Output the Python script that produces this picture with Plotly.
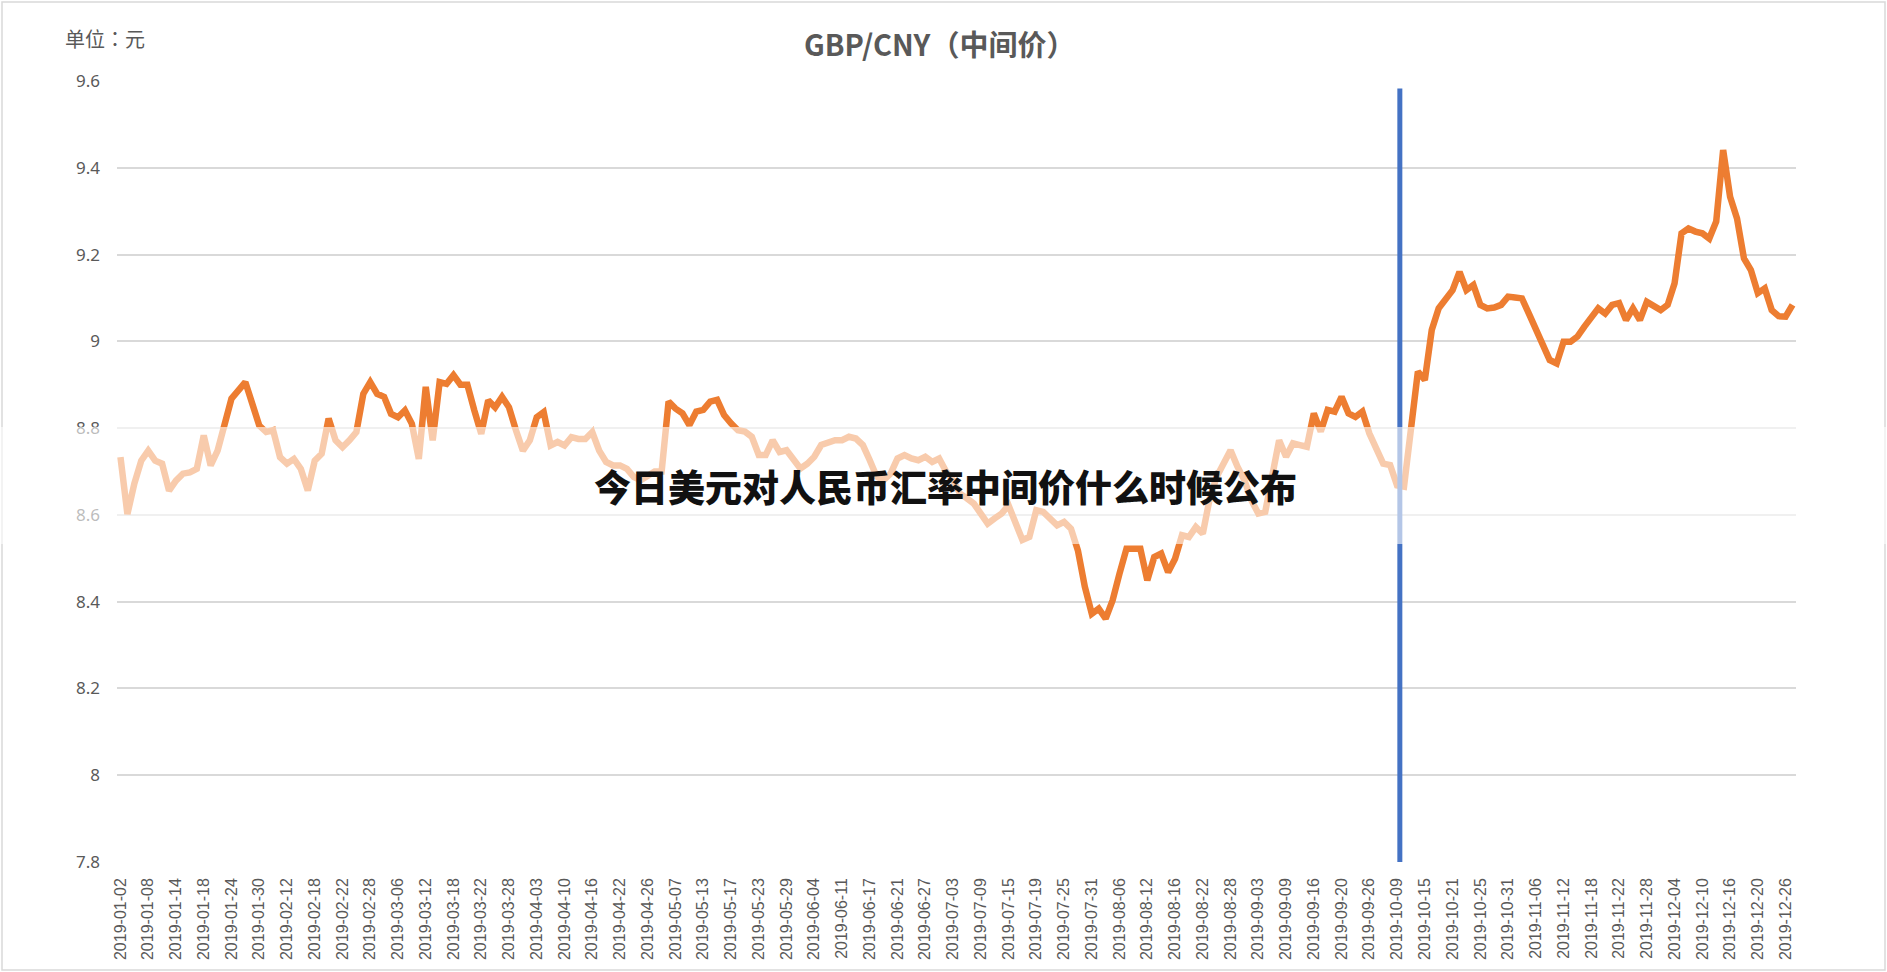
import pandas as pd
import plotly.graph_objects as go

# ---------------- data ----------------
HOLIDAYS_2019 = ["2019-01-01", "2019-02-04", "2019-02-05", "2019-02-06", "2019-02-07",
                 "2019-02-08", "2019-04-05", "2019-05-01", "2019-05-02", "2019-05-03",
                 "2019-06-07", "2019-09-13", "2019-10-01", "2019-10-02", "2019-10-03",
                 "2019-10-04", "2019-10-07"]
_days = pd.bdate_range("2019-01-02", "2019-12-27")
DATES = [d.strftime("%Y-%m-%d") for d in _days if d.strftime("%Y-%m-%d") not in HOLIDAYS_2019]

Q1_VALUES = [8.733, 8.602, 8.672, 8.725, 8.748, 8.725, 8.718, 8.656, 8.679, 8.695,
             8.698, 8.706, 8.783, 8.714, 8.748, 8.814, 8.868, 8.887, 8.906, 8.856,
             8.806, 8.791, 8.795, 8.733, 8.718, 8.729, 8.706, 8.656, 8.725, 8.741,
             8.822, 8.772, 8.756, 8.772, 8.791, 8.879, 8.906, 8.879, 8.872, 8.833,
             8.825, 8.841, 8.810, 8.729, 8.895, 8.772, 8.906, 8.902, 8.922, 8.900,
             8.900, 8.841, 8.787, 8.864, 8.848, 8.872, 8.848, 8.795]
Q2_VALUES = [8.748, 8.772, 8.825, 8.837, 8.760, 8.768, 8.760, 8.779, 8.775, 8.775,
             8.791, 8.748, 8.722, 8.714, 8.714, 8.706, 8.687, 8.680, 8.690, 8.700,
             8.700, 8.861, 8.845, 8.834, 8.807, 8.838, 8.842, 8.861, 8.865, 8.830,
             8.811, 8.795, 8.792, 8.780, 8.738, 8.738, 8.772, 8.745, 8.749, 8.730,
             8.707, 8.718, 8.734, 8.761, 8.765, 8.772, 8.772, 8.780, 8.776, 8.761,
             8.726, 8.688, 8.680, 8.695, 8.730, 8.738, 8.730, 8.726, 8.734, 8.722]
Q3_VALUES = [8.730, 8.700, 8.680, 8.649, 8.638, 8.626, 8.603, 8.580, 8.592, 8.603,
             8.622, 8.580, 8.542, 8.549, 8.611, 8.607, 8.590, 8.576, 8.584, 8.568,
             8.518, 8.434, 8.372, 8.384, 8.361, 8.403, 8.465, 8.522, 8.522, 8.522,
             8.449, 8.503, 8.511, 8.468, 8.499, 8.553, 8.549, 8.572, 8.557, 8.638,
             8.688, 8.715, 8.749, 8.711, 8.680, 8.634, 8.603, 8.607, 8.688, 8.772,
             8.734, 8.765, 8.761, 8.757, 8.834, 8.792, 8.842, 8.838, 8.872, 8.834,
             8.826, 8.838, 8.788, 8.757, 8.718]
Q4_VALUES = [8.715, 8.668, 8.665, 8.800, 8.930, 8.911, 9.026, 9.076, 9.095, 9.118,
             9.160, 9.118, 9.130, 9.084, 9.076, 9.078, 9.084, 9.103, 9.101, 9.099,
             9.064, 9.026, 8.995, 8.957, 8.949, 8.999, 8.999, 9.011, 9.034, 9.053,
             9.076, 9.064, 9.084, 9.088, 9.049, 9.076, 9.049, 9.091, 9.080, 9.072,
             9.084, 9.134, 9.249, 9.260, 9.253, 9.249, 9.237, 9.276, 9.441, 9.333,
             9.283, 9.191, 9.164, 9.111, 9.122, 9.072, 9.058, 9.057, 9.084]
VALUES = Q1_VALUES + Q2_VALUES + Q3_VALUES + Q4_VALUES

X_TICKS = DATES[::4]
Y_TICK_VALS = [7.8, 8.0, 8.2, 8.4, 8.6, 8.8, 9.0, 9.2, 9.4, 9.6]
Y_TICK_TEXT = ["7.8", "8", "8.2", "8.4", "8.6", "8.8", "9", "9.2", "9.4", "9.6"]

TITLE = "GBP/CNY（中间价）"
UNIT = "单位：元"
OVERLAY = "今日美元对人民币汇率中间价什么时候公布"
MARK_DATE = "2019-10-09"

# ---------------- layout geometry ----------------
W, H = 1887, 972
ML, MR, MT, MB = 117, 91, 81, 110
PW, PH = W - ML - MR, H - MT - MB


def px(x):
    return (x - ML) / PW


def py(y):
    return (H - MB - y) / PH


GRAY = "#595959"
ORANGE = "#ED7D31"
BLUE = "#4472C4"

fig = go.Figure()
fig.add_trace(go.Scatter(x=DATES, y=VALUES, mode="lines",
                         line=dict(color=ORANGE, width=6.5), hoverinfo="x+y",
                         showlegend=False))

mark_idx = DATES.index(MARK_DATE) + 0.4

shapes = [
    # chart border
    dict(type="rect", xref="paper", yref="paper", x0=px(2), x1=px(W - 2), y0=py(H - 2), y1=py(2),
         line=dict(color="#D9D9D9", width=1.5), fillcolor="rgba(0,0,0,0)", layer="below"),
    # vertical blue marker line
    dict(type="line", xref="x", yref="y", x0=mark_idx, x1=mark_idx, y0=7.8, y1=9.583,
         line=dict(color=BLUE, width=5), layer="above"),
    # semi-transparent white band
    dict(type="rect", xref="paper", yref="paper", x0=px(0), x1=px(W), y0=py(544), y1=py(427),
         line=dict(width=0), fillcolor="rgba(255,255,255,0.6)", layer="above"),
]

annotations = [
    dict(text=TITLE, xref="paper", yref="paper", x=px(939), y=py(43), showarrow=False,
         xanchor="center", yanchor="middle",
         font=dict(family="Noto Sans CJK SC", size=29, color=GRAY, weight="bold")),
    dict(text=UNIT, xref="paper", yref="paper", x=px(63), y=py(39), showarrow=False,
         xanchor="left", yanchor="middle",
         font=dict(family="Noto Sans CJK TC", size=20, color=GRAY)),
    dict(text=OVERLAY, xref="paper", yref="paper", x=px(945), y=py(486), showarrow=False,
         xanchor="center", yanchor="middle",
         font=dict(family="Noto Sans CJK SC", size=37, color="#111111", weight=900)),
]

fig.update_layout(
    width=W, height=H,
    margin=dict(l=ML, r=MR, t=MT, b=MB, pad=0),
    paper_bgcolor="white", plot_bgcolor="white",
    shapes=shapes, annotations=annotations,
    xaxis=dict(type="category", range=[-0.5, len(DATES) - 0.5],
               tickmode="array", tickvals=X_TICKS, ticktext=X_TICKS, tickangle=-90,
               showgrid=False, showline=False, zeroline=False, ticks="",
               ticklabelstandoff=12,
               tickfont=dict(family="Liberation Sans", size=16, color=GRAY)),
    yaxis=dict(range=[7.8, 9.6], tickmode="array", tickvals=Y_TICK_VALS, ticktext=Y_TICK_TEXT,
               showgrid=True, gridcolor="#D9D9D9", gridwidth=1.5, zeroline=False,
               showline=False, ticks="", ticklabelstandoff=16,
               tickfont=dict(family="Noto Sans", size=17, color=GRAY)),
)

fig.write_html("out.html", config={"displayModeBar": False},
               post_script="document.body.style.margin='0';document.body.style.overflow='hidden';")
